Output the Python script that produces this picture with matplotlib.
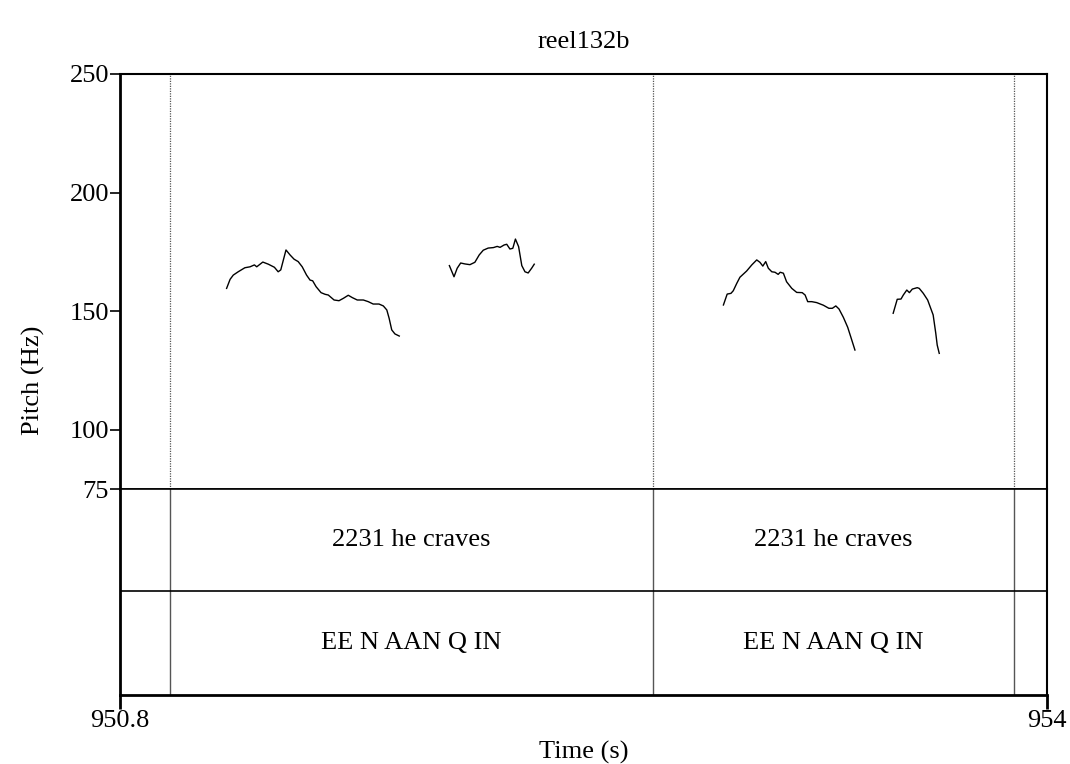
import matplotlib
matplotlib.use("Agg")
import matplotlib.pyplot as plt
import numpy as np

# ---- data ----
title = "reel132b"
x_min, x_max = 950.8, 954.0
pitch_min, pitch_max = 75, 250
pitch_ticks = [75, 100, 150, 200, 250]
x_ticks = [950.8, 954]
x_tick_labels = ["950.8", "954"]

boundaries = [950.973, 952.640, 953.886]
tier1_labels = ["2231 he craves", "2231 he craves"]
tier2_labels = ["EE N AAN Q IN", "EE N AAN Q IN"]

seg1_t = [951.168, 951.180, 951.191, 951.208, 951.231, 951.249, 951.264, 951.272, 951.293,
          951.312, 951.333, 951.346, 951.355, 951.373, 951.387, 951.401, 951.415, 951.429,
          951.444, 951.456, 951.465, 951.477, 951.494, 951.508, 951.519, 951.539, 951.556,
          951.571, 951.588, 951.602, 951.619, 951.640, 951.657, 951.674, 951.694, 951.709,
          951.721, 951.729, 951.738, 951.749, 951.764]
seg1_f = [159.6, 163.4, 165.2, 166.6, 168.3, 168.7, 169.5, 168.7, 170.7,
          169.8, 168.5, 166.6, 167.4, 175.8, 173.7, 171.9, 170.9, 168.7,
          165.2, 163.1, 162.8, 160.3, 157.8, 157.1, 156.8, 154.7, 154.4,
          155.4, 156.7, 155.7, 154.7, 154.7, 154.0, 153.0, 153.0, 152.2,
          150.5, 147.0, 142.1, 140.4, 139.5]

seg2_t = [951.937, 951.953, 951.964, 951.976, 951.991, 952.008, 952.025, 952.040, 952.054,
          952.071, 952.089, 952.102, 952.112, 952.126, 952.135, 952.146, 952.156, 952.165,
          952.176, 952.187, 952.198, 952.209, 952.221, 952.230]
seg2_f = [169.2, 164.5, 168.1, 170.3, 169.9, 169.6, 170.6, 173.7, 175.7,
          176.6, 176.8, 177.3, 176.9, 177.9, 178.2, 176.2, 176.5, 180.4,
          177.2, 169.2, 166.6, 166.1, 168.1, 169.8]

seg3_t = [952.883, 952.896, 952.909, 952.917, 952.929, 952.940, 952.963, 952.981, 952.998,
          953.009, 953.019, 953.029, 953.038, 953.050, 953.061, 953.072, 953.079, 953.090,
          953.101, 953.119, 953.136, 953.155, 953.165, 953.174, 953.188, 953.205, 953.228,
          953.247, 953.259, 953.271, 953.282, 953.297, 953.312, 953.323, 953.337]
seg3_f = [152.6, 157.2, 157.5, 158.6, 161.7, 164.3, 166.9, 169.5, 171.6,
          170.6, 169.0, 170.9, 168.1, 166.6, 166.4, 165.5, 166.4, 166.0,
          162.4, 159.6, 157.9, 157.8, 156.8, 154.0, 154.0, 153.6, 152.5,
          151.2, 151.2, 152.2, 150.9, 147.4, 143.2, 139.0, 133.6]

seg4_t = [953.469, 953.483, 953.496, 953.504, 953.516, 953.525, 953.535, 953.552, 953.559,
          953.573, 953.588, 953.607, 953.616, 953.621, 953.628]
seg4_f = [149.1, 155.0, 155.1, 156.8, 158.9, 157.8, 159.3, 159.9, 159.6,
          157.5, 154.7, 148.4, 140.7, 135.7, 132.2]

segments = [(seg1_t, seg1_f), (seg2_t, seg2_f), (seg3_t, seg3_f), (seg4_t, seg4_f)]

# ---- figure ----
plt.rcParams['font.family'] = ['Liberation Serif', 'DejaVu Serif']
FS = 19
W, H = 1070, 764
fig = plt.figure(figsize=(W / 100, H / 100), dpi=100)

L, R = 120 / W, 1047 / W
top_px, mid_px, tier_px, bot_px = 74, 489, 591, 695

ax = fig.add_axes([L, 1 - mid_px / H, R - L, (mid_px - top_px) / H])
axt = fig.add_axes([L, 1 - bot_px / H, R - L, (bot_px - mid_px) / H])

# pitch axes
for t, f in segments:
    ax.plot(t, f, color='black', lw=1.0)
for b in boundaries:
    ax.axvline(b, color='#555555', lw=0.9, ls=(0, (1, 1)))
ax.set_xlim(x_min, x_max)
ax.set_ylim(pitch_min, pitch_max)
ax.set_yticks(pitch_ticks)
ax.set_yticklabels([str(v) for v in pitch_ticks], fontsize=FS)
ax.set_xticks([])
ax.tick_params(axis='y', direction='out', length=7, width=1.2, pad=1)
ax.spines['left'].set_linewidth(2.0)
for s in ['top', 'right']:
    ax.spines[s].set_linewidth(1.5)
ax.spines['bottom'].set_linewidth(1.2)
ax.set_ylabel("Pitch (Hz)", fontsize=FS)
ax.set_title(title, fontsize=FS, pad=19)
ax.yaxis.set_label_coords(-0.081, 0.263)

# tiers axes
axt.set_xlim(x_min, x_max)
axt.set_ylim(0, 2)
for b in boundaries:
    axt.axvline(b, color='#555555', lw=1.0)
tier_split = (bot_px - tier_px) / (bot_px - mid_px) * 2
axt.axhline(tier_split, color='black', lw=1.2)
tier_pairs = [(boundaries[0], boundaries[1]), (boundaries[1], boundaries[2])]
for (a, b), l1, l2 in zip(tier_pairs, tier1_labels, tier2_labels):
    cx = (a + b) / 2
    axt.text(cx, (tier_split + 2) / 2, l1, ha='center', va='center', fontsize=FS)
    axt.text(cx, tier_split / 2, l2, ha='center', va='center', fontsize=FS)
axt.set_yticks([])
axt.set_xticks(x_ticks)
axt.set_xticklabels(x_tick_labels, fontsize=FS)
axt.tick_params(axis='x', direction='out', length=10, width=2.0, pad=1)
axt.spines['left'].set_linewidth(2.0)
axt.spines['bottom'].set_linewidth(2.0)
axt.spines['right'].set_linewidth(1.5)
axt.spines['top'].set_linewidth(1.2)
axt.set_xlabel("Time (s)", fontsize=FS, labelpad=6)

fig.savefig("out.png", dpi=100)
